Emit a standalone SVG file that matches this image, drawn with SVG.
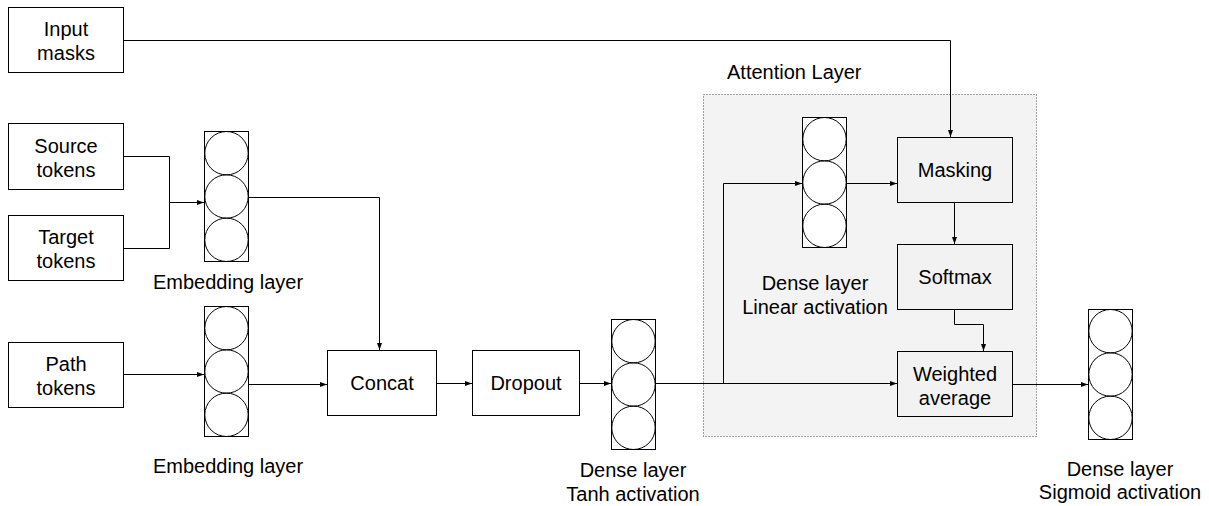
<svg xmlns="http://www.w3.org/2000/svg" width="1209" height="506" viewBox="0 0 1209 506">
<style>
  .box{fill:#fff;stroke:#000;stroke-width:1}
  .abox{fill:#f2f2f2;stroke:#000;stroke-width:1}
  .col{fill:#fff;stroke:#000;stroke-width:1}
  .neu{fill:none;stroke:#000;stroke-width:1}
  .t{font-family:"Liberation Sans",Arial,sans-serif;font-size:20px;fill:#000;text-anchor:middle}
  .w{fill:none;stroke:#000;stroke-width:1}
  .grp{fill:#f3f3f3;stroke:#444;stroke-width:1;stroke-dasharray:1 2}
</style>
<defs>
  <marker id="ah" markerWidth="7" markerHeight="5" refX="7" refY="2.5" orient="auto" markerUnits="userSpaceOnUse">
    <path d="M0,0 L7,2.5 L0,5 z" fill="#000"/>
  </marker>
  <g id="column">
    <rect class="col" x="0" y="0" width="44" height="130"/>
    <circle class="neu" cx="22" cy="21.7" r="21.7"/>
    <circle class="neu" cx="22" cy="65" r="21.7"/>
    <circle class="neu" cx="22" cy="108.3" r="21.7"/>
  </g>
</defs>

<g id="attention-layer">
  <rect class="grp" x="703.5" y="94.5" width="333" height="342"/>
  <text class="t" x="727" y="79" style="text-anchor:start">Attention Layer</text>
</g>

<g id="connectors">
  <path class="w" d="M123,40.5 H950.5 V137" marker-end="url(#ah)"/>
  <path class="w" d="M123,156.5 H169.5 V248.5 H123"/>
  <path class="w" d="M169.5,202.5 H204" marker-end="url(#ah)"/>
  <path class="w" d="M123,374.5 H204" marker-end="url(#ah)"/>
  <path class="w" d="M248,197.5 H379.5 V350" marker-end="url(#ah)"/>
  <path class="w" d="M248,384.5 H327" marker-end="url(#ah)"/>
  <path class="w" d="M436,383.5 H472" marker-end="url(#ah)"/>
  <path class="w" d="M579,383.5 H611" marker-end="url(#ah)"/>
  <path class="w" d="M655,383.5 H897" marker-end="url(#ah)"/>
  <path class="w" d="M723.5,383.5 V183.5 H802" marker-end="url(#ah)"/>
  <path class="w" d="M846,183.5 H897" marker-end="url(#ah)"/>
  <path class="w" d="M954.5,203 V244" marker-end="url(#ah)"/>
  <path class="w" d="M954.5,309 V324.5 H983.5 V351" marker-end="url(#ah)"/>
  <path class="w" d="M1012,384.5 H1088" marker-end="url(#ah)"/>
</g>

<g id="input-masks">
  <rect class="box" x="8.5" y="7.5" width="115" height="65"/>
  <text class="t" x="66" y="36">Input</text>
  <text class="t" x="66" y="60">masks</text>
</g>
<g id="source-tokens">
  <rect class="box" x="8.5" y="123.5" width="115" height="66"/>
  <text class="t" x="66" y="153">Source</text>
  <text class="t" x="66" y="177">tokens</text>
</g>
<g id="target-tokens">
  <rect class="box" x="8.5" y="215.5" width="115" height="65"/>
  <text class="t" x="66" y="244">Target</text>
  <text class="t" x="66" y="268">tokens</text>
</g>
<g id="path-tokens">
  <rect class="box" x="8.5" y="342.5" width="115" height="65"/>
  <text class="t" x="66" y="371">Path</text>
  <text class="t" x="66" y="395">tokens</text>
</g>

<g id="embedding-1">
  <use href="#column" x="204.5" y="131.5"/>
  <text class="t" x="228" y="289">Embedding layer</text>
</g>
<g id="embedding-2">
  <use href="#column" x="204.5" y="306.5"/>
  <text class="t" x="228" y="473">Embedding layer</text>
</g>

<g id="concat">
  <rect class="box" x="327.5" y="350.5" width="109" height="65"/>
  <text class="t" x="382" y="390">Concat</text>
</g>
<g id="dropout">
  <rect class="box" x="472.5" y="350.5" width="107" height="65"/>
  <text class="t" x="526" y="390">Dropout</text>
</g>

<g id="dense-tanh">
  <use href="#column" x="611.5" y="319.5"/>
  <text class="t" x="633" y="477">Dense layer</text>
  <text class="t" x="633" y="501">Tanh activation</text>
</g>

<g id="dense-linear">
  <use href="#column" x="802.5" y="117.5"/>
  <text class="t" x="815" y="290">Dense layer</text>
  <text class="t" x="815" y="314">Linear activation</text>
</g>

<g id="masking">
  <rect class="abox" x="897.5" y="137.5" width="115" height="65"/>
  <text class="t" x="955" y="177">Masking</text>
</g>
<g id="softmax">
  <rect class="abox" x="897.5" y="244.5" width="115" height="65"/>
  <text class="t" x="955" y="284">Softmax</text>
</g>
<g id="weighted-average">
  <rect class="abox" x="897.5" y="351.5" width="115" height="65"/>
  <text class="t" x="955" y="381">Weighted</text>
  <text class="t" x="955" y="405">average</text>
</g>

<g id="dense-sigmoid">
  <use href="#column" x="1088.5" y="309.5"/>
  <text class="t" x="1120" y="476">Dense layer</text>
  <text class="t" x="1120" y="499">Sigmoid activation</text>
</g>
</svg>
